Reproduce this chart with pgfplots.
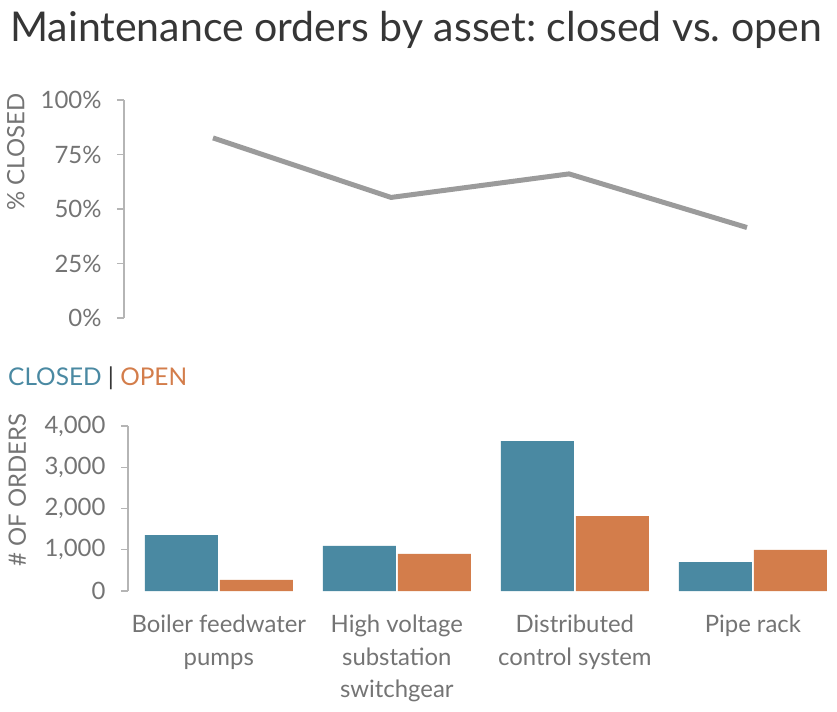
\documentclass[border=0pt]{standalone}
\usepackage{pgfplots}
\pgfplotsset{compat=1.18}
\usepackage{fontspec}
\setmainfont{Lato}
\frenchspacing

\definecolor{closedc}{HTML}{4A89A2}
\definecolor{openc}{HTML}{D37D4B}
\definecolor{linec}{HTML}{9B9B9B}
\definecolor{axisc}{HTML}{B5B5B5}
\definecolor{labelc}{HTML}{747474}
\definecolor{titlec}{HTML}{363636}

\pgfplotsset{
  chartbase/.style={
    scale only axis,
    anchor=south west,
    axis y line*=left,
    tick align=outside,
    major tick length=7bp,
    y axis line style={axisc, line width=1.3bp},
    ytick style={axisc, line width=1.3bp},
    yticklabel style={text=labelc, font=\fontsize{24}{28}\selectfont, xshift=-12bp},
    ylabel style={text=labelc, font=\fontsize{24}{28}\selectfont, anchor=east},
    clip=false,
  },
}

\begin{document}
\begin{tikzpicture}
\useasboundingbox (0bp,0bp) rectangle (837bp,712bp);

\node[anchor=base west, inner sep=0pt, text=titlec,
  font=\fontsize{41.2}{48}\selectfont] at (10bp,670bp)
  {Maintenance orders by asset: closed vs. open};

% top: share closed
\begin{axis}[chartbase,
  at={(124bp,394bp)},
  width=712bp, height=218bp,
  xmin=-0.5, xmax=3.5, ymin=0, ymax=100,
  hide x axis,
  ytick={0,25,50,75,100},
  yticklabels={0\%,25\%,50\%,75\%,100\%},
  ylabel={\% CLOSED},
  ylabel style={at={(axis description cs:-0.152,1.046)}},
]
\addplot[linec, line width=5bp] coordinates {
  (0,82.6) (1,55.3) (2,66.1) (3,41.5)
};
\end{axis}

\node[anchor=base west, inner sep=0pt, font=\fontsize{24.5}{28}\selectfont]
  at (8bp,326bp)
  {\textcolor{closedc}{CLOSED} \textcolor{titlec}{|} \textcolor{openc}{OPEN}};

% bottom: order counts
\begin{axis}[chartbase,
  at={(128bp,121bp)},
  width=705bp, height=165bp,
  xmin=-0.51, xmax=3.45, ymin=0, ymax=4000,
  axis x line*=bottom,
  x axis line style={draw=none},
  xtick style={draw=none},
  xtick={0,1,2,3},
  xticklabels={{Boiler feedwater\\pumps},{High voltage\\substation\\switchgear},{Distributed\\control system},{Pipe rack}},
  xticklabel style={text=labelc, align=center, anchor=north,
    font=\fontsize{24}{33}\selectfont, yshift=-13bp},
  ytick={0,1000,2000,3000,4000},
  yticklabels={0,{1,000},{2,000},{3,000},{4,000}},
  ylabel={\# OF ORDERS},
  ylabel style={at={(axis description cs:-0.157,1.097)}},
]
\addplot[ybar, bar width=73bp, bar shift=-37.5bp, fill=closedc, draw=none]
  coordinates {(0,1357) (1,1091) (2,3636) (3,703)};
\addplot[ybar, bar width=73bp, bar shift=37.5bp, fill=openc, draw=none]
  coordinates {(0,267) (1,897) (2,1818) (3,994)};
\end{axis}
\end{tikzpicture}
\end{document}
